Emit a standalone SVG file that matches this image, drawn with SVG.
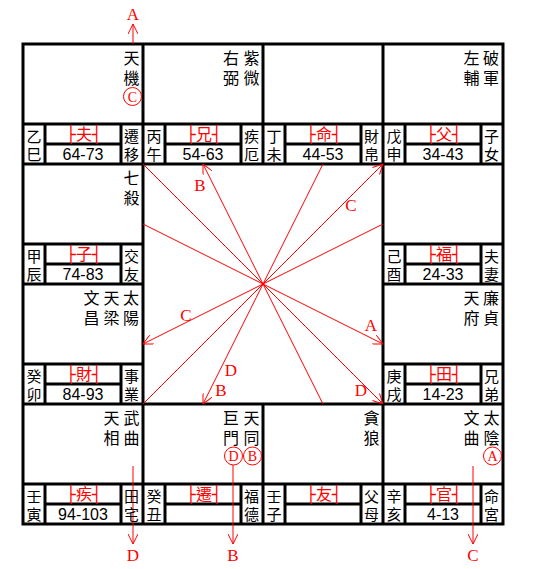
<svg xmlns="http://www.w3.org/2000/svg" width="555" height="569" viewBox="0 0 555 569">
<style>
.g{stroke:#000;stroke-width:3;fill:none}
.t{font-family:"Noto Sans CJK TC","Noto Sans CJK SC",sans-serif;font-size:16px;fill:#000;text-anchor:middle;writing-mode:vertical-rl;letter-spacing:4px}
.s{font-family:"Noto Sans CJK TC","Noto Sans CJK SC",sans-serif;font-size:15px;fill:#000;text-anchor:middle;writing-mode:vertical-rl;letter-spacing:2.5px}
.p{font-family:"DejaVu Sans Mono","Noto Sans CJK TC",monospace;font-size:16px;fill:#f00;text-anchor:middle}
.a{font-family:"Liberation Sans",Arial,sans-serif;font-size:16px;fill:#000;text-anchor:middle}
.l{font-family:"Liberation Serif","Times New Roman",serif;font-size:17px;fill:#f00;text-anchor:middle}
.c{font-family:"Liberation Serif","Times New Roman",serif;font-size:14px;fill:#f00;text-anchor:middle}
.r{stroke:#f00;stroke-width:1;fill:none}
.ar{stroke:#f00;stroke-width:1;fill:none;marker-end:url(#ah)}
</style>
<defs>
<marker id="ah" viewBox="0 0 10 10" refX="10" refY="5" markerWidth="10" markerHeight="10" markerUnits="userSpaceOnUse" orient="auto">
<path d="M0,0 L10,5 L0,10" fill="none" stroke="#f00" stroke-width="1"/>
</marker>
</defs>
<rect width="555" height="569" fill="#fff"/>
<g id="grid">
<rect x="23" y="44" width="480" height="480" class="g"/>
<path class="g" d="M143,44V524M383,44V524M263,44V164M263,404V524M23,164H503M23,404H503M23,284H143M383,284H503"/>
<path class="g" stroke-width="2.5" d="M23,124H263M263,124H503M23,244H143M383,244H503M23,364H143M383,364H503M23,484H503
M45,124V164M121,124V164M165,124V164M241,124V164M285,124V164M361,124V164M405,124V164M481,124V164
M45,244V284M121,244V284M405,244V284M481,244V284
M45,364V404M121,364V404M405,364V404M481,364V404
M45,484V524M121,484V524M165,484V524M241,484V524M285,484V524M361,484V524M405,484V524M481,484V524
M45,144H121M165,144H241M285,144H361M405,144H481M45,264H121M405,264H481M45,384H121M405,384H481M45,504H121M165,504H241M285,504H361M405,504H481"/>
</g>
<g id="connectors">
<path class="r" d="M263,284L143,164M263,284L323,164M263,284L143,224M263,284L383,224M263,284L143,404M263,284L323,404"/>
<path class="ar" d="M263,284L383,164"/>
<path class="ar" d="M263,284L203,164"/>
<path class="ar" d="M263,284L143,344"/>
<path class="ar" d="M263,284L383,344"/>
<path class="ar" d="M263,284L203,404"/>
<path class="ar" d="M263,284L383,404"/>
<path class="ar" d="M133,44V24"/>
<path class="ar" d="M133,466V544"/>
<path class="ar" d="M233,465V544"/>
<path class="ar" d="M473,466V544"/>
<text class="l" x="133" y="20">A</text>
<text class="l" x="133" y="561">D</text>
<text class="l" x="233" y="561">B</text>
<text class="l" x="473" y="561">C</text>
<text class="l" x="200" y="191">B</text>
<text class="l" x="351" y="211">C</text>
<text class="l" x="186" y="321">C</text>
<text class="l" x="371" y="331">A</text>
<text class="l" x="231" y="376">D</text>
<text class="l" x="221" y="396">B</text>
<text class="l" x="361" y="396">D</text>
</g>
<g id="cell-si">
<text class="t" x="131.5" y="70">天機</text>
<circle class="r" cx="132.5" cy="96.5" r="9"/><text class="c" x="132.5" y="101.5">C</text>
<text class="s" x="34" y="146.5">乙巳</text>
<text class="p" x="84" y="140">├夫┤</text><text class="a" x="83" y="160">64-73</text>
<text class="s" x="131.5" y="146.5">遷移</text>
</g>
<g id="cell-wu">
<text class="t" x="251.5" y="70">紫微</text>
<text class="t" x="231" y="70">右弼</text>
<text class="s" x="154" y="146.5">丙午</text>
<text class="p" x="204" y="140">├兄┤</text><text class="a" x="203" y="160">54-63</text>
<text class="s" x="251.5" y="146.5">疾厄</text>
</g>
<g id="cell-wei">
<text class="s" x="274" y="146.5">丁未</text>
<text class="p" x="324" y="140">├命┤</text><text class="a" x="323" y="160">44-53</text>
<text class="s" x="371.5" y="146.5">財帛</text>
</g>
<g id="cell-shen">
<text class="t" x="491" y="70">破軍</text>
<text class="t" x="471.5" y="70">左輔</text>
<text class="s" x="394" y="146.5">戊申</text>
<text class="p" x="444" y="140">├父┤</text><text class="a" x="443" y="160">34-43</text>
<text class="s" x="491.5" y="146.5">子女</text>
</g>
<g id="cell-chen">
<text class="t" x="131.5" y="190">七殺</text>
<text class="s" x="34" y="266.5">甲辰</text>
<text class="p" x="84" y="260">├子┤</text><text class="a" x="83" y="280">74-83</text>
<text class="s" x="131.5" y="266.5">交友</text>
</g>
<g id="cell-you">
<text class="s" x="394" y="266.5">己酉</text>
<text class="p" x="444" y="260">├福┤</text><text class="a" x="443" y="280">24-33</text>
<text class="s" x="491.5" y="266.5">夫妻</text>
</g>
<g id="cell-mao">
<text class="t" x="131" y="310">太陽</text>
<text class="t" x="111.5" y="310">天梁</text>
<text class="t" x="91.5" y="310">文昌</text>
<text class="s" x="34" y="386.5">癸卯</text>
<text class="p" x="84" y="380">├財┤</text><text class="a" x="83" y="400">84-93</text>
<text class="s" x="131.5" y="386.5">事業</text>
</g>
<g id="cell-xu">
<text class="t" x="491" y="310">廉貞</text>
<text class="t" x="471.5" y="310">天府</text>
<text class="s" x="394" y="386.5">庚戌</text>
<text class="p" x="444" y="380">├田┤</text><text class="a" x="443" y="400">14-23</text>
<text class="s" x="491.5" y="386.5">兄弟</text>
</g>
<g id="cell-yin">
<text class="t" x="131.5" y="430">武曲</text>
<text class="t" x="111.5" y="430">天相</text>
<text class="s" x="34" y="506.5">壬寅</text>
<text class="p" x="84" y="500">├疾┤</text><text class="a" x="83" y="520">94-103</text>
<text class="s" x="131.5" y="506.5">田宅</text>
</g>
<g id="cell-chou">
<text class="t" x="251.5" y="430">天同</text>
<text class="t" x="231" y="430">巨門</text>
<circle class="r" cx="233.5" cy="456" r="9"/><text class="c" x="233.5" y="461">D</text>
<circle class="r" cx="252.5" cy="456" r="9"/><text class="c" x="252.5" y="461">B</text>
<text class="s" x="154" y="506.5">癸丑</text>
<text class="p" x="204" y="500">├遷┤</text>
<text class="s" x="251.5" y="506.5">福德</text>
</g>
<g id="cell-zi">
<text class="t" x="371.5" y="430">貪狼</text>
<text class="s" x="274" y="506.5">壬子</text>
<text class="p" x="324" y="500">├友┤</text>
<text class="s" x="371.5" y="506.5">父母</text>
</g>
<g id="cell-hai">
<text class="t" x="491.5" y="430">太陰</text>
<text class="t" x="471.5" y="430">文曲</text>
<circle class="r" cx="492.5" cy="456" r="9"/><text class="c" x="492.5" y="461">A</text>
<text class="s" x="394" y="506.5">辛亥</text>
<text class="p" x="444" y="500">├官┤</text><text class="a" x="443" y="520">4-13</text>
<text class="s" x="491.5" y="506.5">命宮</text>
</g>
</svg>
